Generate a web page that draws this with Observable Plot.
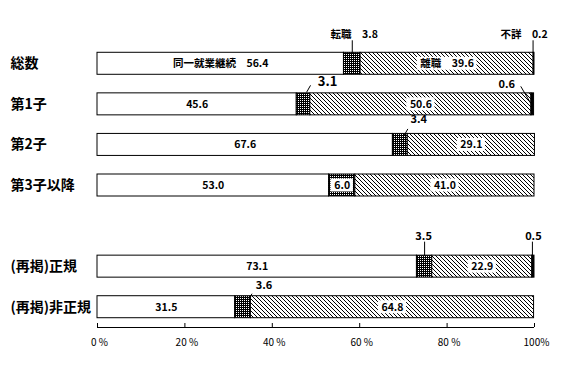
<!DOCTYPE html>
<html><head><meta charset="utf-8">
<script src="https://cdn.jsdelivr.net/npm/d3@7"></script>
<script src="https://cdn.jsdelivr.net/npm/@observablehq/plot@0.6"></script>
<style>
html,body{margin:0;padding:0;background:#fff;}
</style>
</head><body><div id="chart"></div>
<script>
// ---- data ----
const categories = ["総数","第1子","第2子","第3子以降","(再掲)正規","(再掲)非正規"];
const series = ["同一就業継続","転職","離職","不詳"];
const stay    = [56.4, 45.6, 67.6, 53.0, 73.1, 31.5];
const change  = [3.8, 3.1, 3.4, 6.0, 3.5, 3.6];
const quit    = [39.6, 50.6, 29.1, 41.0, 22.9, 64.8];
const unknown = [0.2, 0.6, 0, 0, 0.5, 0];
const xTicks = [0, 20, 40, 60, 80, 100];
const xTickLabels = ["0 %", "20 %", "40 %", "60 %", "80 %", "100%"];

// ---- layout ----
const W = 563, H = 372, mL = 97, mR = 29, mT = 43, mB = 45;
const pxPerPct = (W - mL - mR) / 100;
const pxPerRow = (H - mT - mB) / 7;
const half = 11 / pxPerRow;
const gapIndex = 4; // blank row before the 再掲 rows
const rowOf = i => i < gapIndex ? i : i + 1;
const fills = ["white", "url(#cross)", "url(#hatch)", "black"];
const values = [stay, change, quit, unknown];

const segs = [];
categories.forEach((c, i) => {
  let cum = 0;
  values.forEach((arr, s) => {
    const v = arr[i];
    segs.push({i, s, v, row: rowOf(i), x1: cum, x2: cum + v, cx: cum + v / 2});
    cum += v;
  });
});
const seg = (i, s) => segs.find(d => d.i === i && d.s === s);
const fmt = v => v.toFixed(1);

// inside labels
const plainLabels = categories.map((c, i) => {
  const d = seg(i, 0);
  return {x: d.cx, row: d.row, text: i === 0 ? `${series[0]}　${fmt(d.v)}` : fmt(d.v)};
});
const boxedLabels = categories.map((c, i) => {
  const d = seg(i, 2);
  return {x: d.cx, row: d.row, text: i === 0 ? `${series[2]}　${fmt(d.v)}` : fmt(d.v)};
});
boxedLabels.push((() => { const d = seg(3, 1); return {x: d.cx, row: d.row, text: fmt(d.v)}; })());
const textW = t => [...t].reduce((a, ch) => a + (ch.charCodeAt(0) > 255 ? 10.5 : 5.8), 0);
boxedLabels.forEach(b => { b.hw = (textW(b.text) + 5) / 2 / pxPerPct; });

// outside annotations (offsets in px from segment centre)
const notes = [
  {i:0, s:1, named:true, tdx:2,   tdy:-29.5, l:[0,-23.5,0,-11], size:10.5},
  {i:0, s:3, named:true, tdx:-10, tdy:-29.5, l:[-1,-23.5,-1,-11], size:10.5},
  {i:1, s:1, tdx:24,  tdy:-23, l:[7,-19,3,-12], size:13},
  {i:1, s:3, tdx:-26, tdy:-20, l:[-12,-18,-2,-1], size:11},
  {i:2, s:1, tdx:18.5,tdy:-25, l:[7.5,-16,3.5,-9], size:11},
  {i:4, s:1, tdx:-1,  tdy:-30, l:[0,-25,0,-11], size:11},
  {i:4, s:3, tdx:0,   tdy:-30, l:[-1,-25,-1,-11], size:11},
  {i:5, s:1, tdx:21,  tdy:-21.5, l:[9,-13.5,6,-8.5], size:11}
].map(n => {
  const d = seg(n.i, n.s);
  return {
    ...n,
    text: n.named ? `${series[n.s]}　${fmt(d.v)}` : fmt(d.v),
    x: d.cx + n.tdx / pxPerPct, y: d.row + n.tdy / pxPerRow,
    x1: d.cx + n.l[0] / pxPerPct, y1: d.row + n.l[1] / pxPerRow,
    x2: d.cx + n.l[2] / pxPerPct, y2: d.row + n.l[3] / pxPerRow
  };
});

const font = "'Noto Sans CJK JP', 'Noto Sans', sans-serif";

const barMarks = fills.map((f, s) =>
  Plot.rect(segs.filter(d => d.s === s && d.v > 0), {
    x1: "x1", x2: "x2", y1: d => d.row - half, y2: d => d.row + half,
    fill: f, stroke: "black", strokeWidth: 1
  })
);

const svg = Plot.plot({
  width: W, height: H,
  marginLeft: mL, marginRight: mR, marginTop: mT, marginBottom: mB,
  style: {fontFamily: font, background: "white"},
  x: {domain: [0, 100], axis: null},
  y: {domain: [6.5, -0.5], axis: null},
  marks: [
    ...barMarks,
    Plot.text(plainLabels, {x: "x", y: "row", text: "text", fontSize: 10.5, fontWeight: "bold", fill: "black"}),
    Plot.rect(boxedLabels, {x1: d => d.x - d.hw, x2: d => d.x + d.hw, y1: d => d.row - 0.16, y2: d => d.row + 0.16, fill: "white"}),
    Plot.text(boxedLabels, {x: "x", y: "row", text: "text", fontSize: 10.5, fontWeight: "bold", fill: "black"}),
    Plot.link(notes, {x1: "x1", y1: "y1", x2: "x2", y2: "y2", stroke: "black", strokeWidth: 1}),
    Plot.text(notes, {x: "x", y: "y", text: "text", fontSize: d => d.size, fontWeight: "bold", fill: "black"}),
    Plot.text(categories, {x: 0, y: (d, i) => rowOf(i), text: d => d, textAnchor: "start", dx: -87, fontSize: 14, fontWeight: "bold", fill: "black"}),
    Plot.ruleY([6.5], {x1: 0, x2: 100, stroke: "black"}),
    Plot.ruleX(xTicks, {x: d => d, y1: 6.5, y2: 6.5 - 4 / pxPerRow, stroke: "black"}),
    Plot.text(xTicks, {x: d => d, y: 6.5, dy: 15, dx: 2, text: (d, i) => xTickLabels[i], fontSize: 10, fill: "black"})
  ]
});

const defs = document.createElementNS("http://www.w3.org/2000/svg", "defs");
defs.innerHTML = `
<pattern id="hatch" patternUnits="userSpaceOnUse" width="4" height="4">
  <rect width="4" height="4" fill="white"/>
  <rect x="0" y="0" width="1" height="1" fill="black" shape-rendering="crispEdges"/>
  <rect x="1" y="1" width="1" height="1" fill="black" shape-rendering="crispEdges"/>
  <rect x="2" y="2" width="1" height="1" fill="black" shape-rendering="crispEdges"/>
  <rect x="3" y="3" width="1" height="1" fill="black" shape-rendering="crispEdges"/>
</pattern>
<pattern id="cross" patternUnits="userSpaceOnUse" width="2" height="2">
  <rect width="2" height="2" fill="black"/>
  <rect x="0" y="0" width="1" height="1" fill="white" shape-rendering="crispEdges"/>
</pattern>`;
svg.insertBefore(defs, svg.firstChild);
document.getElementById("chart").appendChild(svg);
</script>
</body></html>
